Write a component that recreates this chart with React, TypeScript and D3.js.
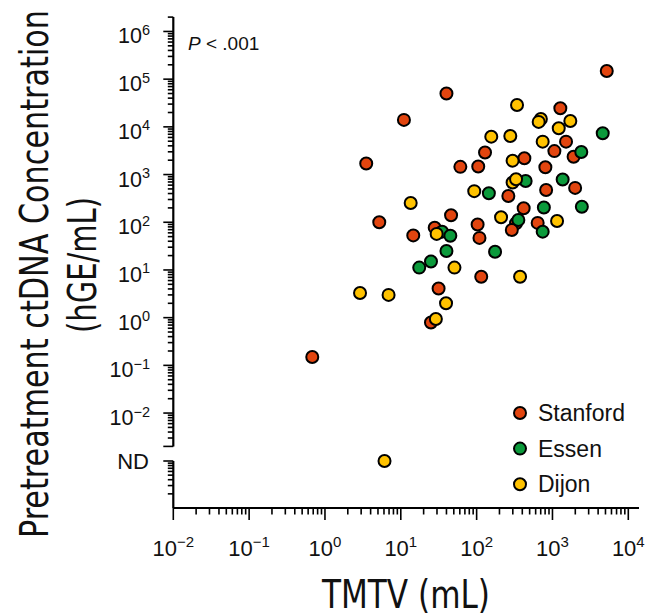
import * as d3 from "d3";

// TMTV (mL) and pretreatment ctDNA (hGE/mL) per site; null ctDNA = not detected
const stanfordTmtv = [331, 0.68, 3.5, 11, 40, 61, 105, 129, 5.2, 46, 28, 14.6, 103, 109, 262, 825, 1990, 417, 291, 638, 115, 31.5, 25, 5200, 1270, 1510, 1060, 1900, 426, 806];
const stanfordCtdna = [95, 0.15, 1700, 14000, 50000, 1450, 1480, 2900, 100, 140, 77, 53, 90, 47, 355, 475, 525, 197, 69, 97, 7.2, 4.1, 0.79, 148000, 24500, 4900, 3100, 2370, 2200, 1420];

const essenTmtv = [35, 45, 40, 25, 17.5, 145, 443, 1363, 2440, 770, 355, 743, 175, 4600, 2400];
const essenCtdna = [63.5, 52, 25, 15, 11.2, 405, 734, 790, 212, 204, 112, 63.5, 24, 7350, 2980];

const dijonTmtv = [703, 298, 13.5, 93, 156, 29.7, 210, 1150, 51, 374, 6.9, 39.5, 29, 2.9, 6.1, 341, 658, 1720, 1210, 278, 743, 298, 331];
const dijonCtdna = [14650, 683, 254, 449, 6230, 57, 127, 106, 11.2, 7.2, 3.0, 2.0, 0.94, 3.3, null, 28800, 12700, 13300, 9350, 6450, 4900, 1955, 797];

const sites = ["Stanford", "Essen", "Dijon"];
const siteColors = ["#e2450f", "#0b9a3b", "#ffc200"];

const xTickExps = [-2, -1, 0, 1, 2, 3, 4];
const yTickExps = [-2, -1, 0, 1, 2, 3, 4, 5, 6];

const W = 661;
const H = 616;
const axisX = 173.3;
const axisY = 508;

const tickFont = "'Liberation Sans', Arial, Helvetica, sans-serif";
const titleFont = "'Liberation Sans Narrow', 'Arial Narrow', 'DejaVu Sans Condensed', sans-serif";

const isMajor = (t: number) => Math.abs(Math.log10(t) - Math.round(Math.log10(t))) < 1e-9;
const sup = (e: number) => (e < 0 ? "\u2212" + Math.abs(e) : String(e));

export default function App() {
  const x = d3.scaleLog().domain([1e-2, 1e4]).range([axisX, 628.3]);
  const y = d3.scaleLog().domain([2e-3, 2e6]).range([446.4, 17.1]);
  const yNd = d3.scaleLog().domain([1, 10]).range([axisY, 461]);

  const series = [
    { xs: stanfordTmtv, ys: stanfordCtdna },
    { xs: essenTmtv, ys: essenCtdna },
    { xs: dijonTmtv, ys: dijonCtdna },
  ];

  return (
    <svg width={W} height={H} style={{ position: "absolute", left: 0, top: 0, background: "#fff" }}>
      {/* y axis title: smaller font stretched across the glyph height so it fits the page */}
      <text
        transform={`translate(48,538) rotate(-90) scale(1,1.22)`}
        fontFamily={titleFont}
        fontSize={32}
        textLength={528}
        lengthAdjust="spacingAndGlyphs"
        fill="#111"
      >
        Pretreatment ctDNA Concentration
      </text>
      <text
        transform={`translate(96,265) rotate(-90)`}
        fontFamily={titleFont}
        fontSize={39}
        textAnchor="middle"
        textLength={136}
        lengthAdjust="spacingAndGlyphs"
        fill="#111"
      >
        (hGE/mL)
      </text>

      {/* x axis title */}
      <text
        x={406}
        y={608}
        fontFamily={titleFont}
        fontSize={39}
        textAnchor="middle"
        textLength={168}
        lengthAdjust="spacingAndGlyphs"
        fill="#111"
      >
        TMTV (mL)
      </text>

      {/* x axis */}
      <g stroke="#000">
        <line x1={axisX} x2={639} y1={axisY} y2={axisY} strokeWidth={2.2} />
        {x.ticks().map((t, i) => (
          <line key={i} x1={x(t)} x2={x(t)} y1={axisY} y2={axisY + (isMajor(t) ? 12 : 6.5)} strokeWidth={1.6} />
        ))}
      </g>
      {xTickExps.map((e) => (
        <text key={e} x={x(Math.pow(10, e))} y={556} textAnchor="middle" fontFamily={tickFont} fontSize={22} fill="#111">
          <tspan>10</tspan>
          <tspan dy={-9} fontSize={15}>
            {sup(e)}
          </tspan>
        </text>
      ))}

      {/* y axis, upper segment */}
      <g stroke="#000">
        <line x1={axisX} x2={axisX} y1={y(2e6)} y2={y(2e-3)} strokeWidth={2.2} />
        {y.ticks().map((t, i) => {
          const end = Math.abs(t - 2e-3) < 1e-9;
          return (
            <line key={i} x1={axisX} x2={axisX - (isMajor(t) || end ? 10 : 5.5)} y1={y(t)} y2={y(t)} strokeWidth={1.6} />
          );
        })}
      </g>
      {yTickExps.map((e) => (
        <text key={e} x={150} y={y(Math.pow(10, e)) + 12} textAnchor="end" fontFamily={tickFont} fontSize={21.5} fill="#111">
          <tspan>10</tspan>
          <tspan dy={-8.5} fontSize={14.5}>
            {sup(e)}
          </tspan>
        </text>
      ))}

      {/* y axis, ND segment */}
      <g stroke="#000">
        <line x1={axisX} x2={axisX} y1={yNd(10)} y2={axisY} strokeWidth={2.2} />
        {yNd
          .ticks()
          .filter((t) => t > 1)
          .map((t, i) => (
            <line key={i} x1={axisX} x2={axisX - (isMajor(t) ? 10 : 5.5)} y1={yNd(t)} y2={yNd(t)} strokeWidth={1.6} />
          ))}
      </g>
      <text x={149} y={yNd(10) + 7.5} textAnchor="end" fontFamily={tickFont} fontSize={22} fill="#111">
        ND
      </text>

      {/* annotation */}
      <text x={188} y={50} fontFamily={tickFont} fontSize={19} fill="#111">
        <tspan fontStyle="italic">P</tspan> &lt; .001
      </text>

      {/* points */}
      {series.map((s, si) => (
        <g key={si}>
          {s.xs.map((v, i) => {
            const c = s.ys[i];
            return (
              <circle
                key={i}
                cx={x(v)}
                cy={c == null ? yNd(10) : y(c)}
                r={6}
                fill={siteColors[si]}
                stroke="#000"
                strokeWidth={2}
              />
            );
          })}
        </g>
      ))}

      {/* legend */}
      {sites.map((name, i) => (
        <g key={name} transform={`translate(520,${413 + i * 35.6})`}>
          <circle r={6} fill={siteColors[i]} stroke="#000" strokeWidth={2} />
          <text x={18} y={8} fontFamily={tickFont} fontSize={23} fill="#111">
            {name}
          </text>
        </g>
      ))}
    </svg>
  );
}
